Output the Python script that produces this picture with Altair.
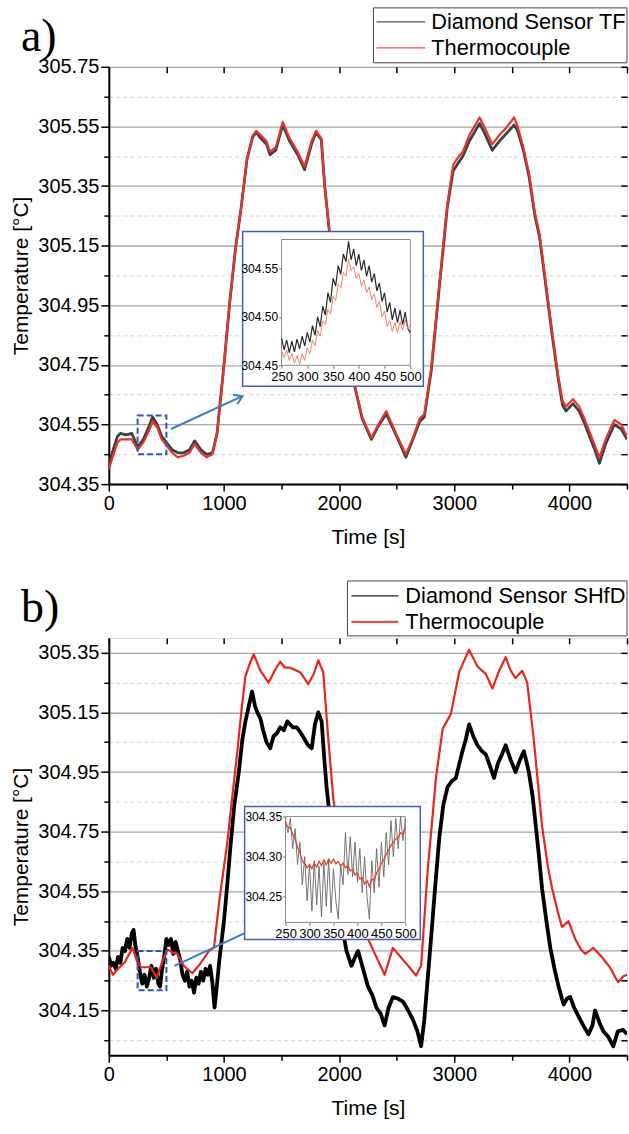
import json
import altair as alt
import pandas as pd

# ---------------- Panel a data ----------------
a_time = [0, 25, 50, 75, 100, 150, 200, 250, 300, 350, 380, 420, 460, 500, 550, 600, 650, 700, 745, 800,
          850, 900, 940, 1000, 1050, 1100, 1150, 1200, 1250, 1280, 1320, 1370, 1400, 1450, 1510, 1570,
          1640, 1700, 1760, 1800, 1845, 1875, 1920, 1960, 2000, 2050, 2100, 2140, 2200, 2280, 2340,
          2410, 2500, 2580, 2640, 2700, 2740, 2800, 2870, 2940, 2990, 3030, 3075, 3130, 3220, 3260,
          3330, 3390, 3450, 3520, 3550, 3600, 3650, 3700, 3740, 3800, 3850, 3900, 3940, 3970, 4030,
          4085, 4130, 4170, 4220, 4260, 4320, 4390, 4450, 4500]
a_diamond = [304.41, 304.45, 304.48, 304.51, 304.52, 304.515, 304.52, 304.475, 304.50, 304.545, 304.575,
             304.55, 304.51, 304.49, 304.465, 304.455, 304.455, 304.465, 304.495, 304.465, 304.45,
             304.455, 304.52, 304.75, 304.96, 305.14, 305.28, 305.44, 305.515, 305.53, 305.51, 305.49,
             305.455, 305.47, 305.555, 305.50, 305.455, 305.405, 305.49, 305.53, 305.505, 305.35,
             305.18, 305.02, 304.90, 304.80, 304.72, 304.67, 304.57, 304.50, 304.545, 304.585, 304.51,
             304.44, 304.50, 304.56, 304.575, 304.73, 305.01, 305.28, 305.40, 305.425, 305.45, 305.50,
             305.56, 305.53, 305.47, 305.50, 305.525, 305.555, 305.535, 305.47, 305.38, 305.25, 305.18,
             305.00, 304.85, 304.71, 304.615, 304.595, 304.62, 304.595, 304.555, 304.515, 304.465,
             304.42, 304.49, 304.55, 304.535, 304.50]
a_tc = [304.40, 304.43, 304.46, 304.49, 304.50, 304.50, 304.50, 304.465, 304.49, 304.53, 304.56, 304.54,
        304.50, 304.48, 304.455, 304.44, 304.445, 304.455, 304.485, 304.455, 304.44, 304.45, 304.52,
        304.75, 304.96, 305.14, 305.28, 305.44, 305.52, 305.535, 305.52, 305.50, 305.465, 305.48,
        305.565, 305.51, 305.465, 305.415, 305.50, 305.535, 305.51, 305.35, 305.18, 305.02, 304.90,
        304.80, 304.72, 304.675, 304.575, 304.505, 304.55, 304.595, 304.515, 304.45, 304.505, 304.57,
        304.585, 304.74, 305.02, 305.29, 305.42, 305.445, 305.465, 305.52, 305.58, 305.55, 305.49,
        305.52, 305.545, 305.58, 305.55, 305.48, 305.39, 305.26, 305.19, 305.01, 304.86, 304.72,
        304.63, 304.61, 304.635, 304.61, 304.57, 304.53, 304.48, 304.44, 304.505, 304.565, 304.55,
        304.51]

inset_time = [250, 255, 260, 265, 270, 275, 280, 285, 290, 295, 300, 305, 310, 315, 320, 325, 330, 335,
              340, 345, 350, 355, 360, 365, 370, 375, 380, 385, 390, 395, 400, 405, 410, 415, 420, 425,
              430, 435, 440, 445, 450, 455, 460, 465, 470, 475, 480, 485, 490, 495, 500]
a_inset_diamond = [304.478, 304.466, 304.476, 304.463, 304.475, 304.464, 304.477, 304.467, 304.480,
                   304.470, 304.484, 304.474, 304.491, 304.481, 304.500, 304.490, 304.511, 304.502,
                   304.525, 304.515, 304.540, 304.532, 304.553, 304.544, 304.565, 304.557, 304.578,
                   304.559, 304.570, 304.553, 304.565, 304.548, 304.559, 304.542, 304.553, 304.536,
                   304.545, 304.527, 304.535, 304.516, 304.525, 304.505, 304.515, 304.497, 304.509,
                   304.494, 304.507, 304.492, 304.505, 304.488, 304.484]
a_inset_tc = [304.465, 304.458, 304.466, 304.455, 304.462, 304.452, 304.460, 304.451, 304.462, 304.455,
              304.468, 304.462, 304.476, 304.470, 304.486, 304.480, 304.496, 304.492, 304.508, 304.503,
              304.521, 304.517, 304.534, 304.530, 304.546, 304.542, 304.560, 304.548, 304.552, 304.540,
              304.545, 304.532, 304.538, 304.525, 304.531, 304.518, 304.524, 304.510, 304.516, 304.500,
              304.506, 304.490, 304.496, 304.485, 304.494, 304.484, 304.495, 304.486, 304.497, 304.488,
              304.492]

# ---------------- Panel b data ----------------
b_time_tc = [0, 35, 80, 135, 207, 240, 280, 320, 365, 417, 460, 509, 550, 596, 650, 725, 780, 826, 870,
             913, 960, 1028, 1070, 1114, 1150, 1186, 1220, 1258, 1316, 1388, 1440, 1488, 1530, 1574,
             1632, 1661, 1733, 1780, 1819, 1862, 1906, 1950, 2000, 2060, 2120, 2180, 2251, 2323, 2395,
             2467, 2554, 2610, 2668, 2712, 2769, 2841, 2899, 2935, 2971, 3042, 3128, 3201, 3240, 3273,
             3331, 3390, 3446, 3490, 3532, 3590, 3633, 3690, 3762, 3810, 3849, 3900, 3935, 3992, 4050,
             4100, 4136, 4208, 4280, 4352, 4400, 4424, 4467, 4500]
b_tc = [304.30, 304.27, 304.29, 304.31, 304.36, 304.32, 304.295, 304.295, 304.295, 304.26, 304.31,
        304.355, 304.345, 304.34, 304.30, 304.275, 304.30, 304.325, 304.35, 304.36, 304.52, 304.71,
        304.86, 305.01, 305.15, 305.27, 305.31, 305.345, 305.29, 305.25, 305.29, 305.32, 305.30,
        305.30, 305.29, 305.285, 305.245, 305.28, 305.325, 305.285, 305.06, 304.86, 304.72, 304.60,
        304.50, 304.44, 304.39, 304.33, 304.27, 304.36, 304.32, 304.295, 304.267, 304.30, 304.62,
        304.93, 305.095, 305.12, 305.145, 305.285, 305.36, 305.305, 305.29, 305.28, 305.23, 305.29,
        305.335, 305.29, 305.265, 305.29, 305.25, 305.06, 304.77, 304.64, 304.56, 304.48, 304.43,
        304.45, 304.39, 304.355, 304.34, 304.36, 304.33, 304.295, 304.26, 304.245, 304.265, 304.27]
b_time_diamond = [0, 20, 40, 60, 80, 100, 120, 140, 160, 180, 200, 215, 230, 250, 270, 290, 310, 330,
                  350, 370, 390, 410, 430, 445, 460, 480, 500, 520, 540, 560, 580, 600, 620, 640, 660,
                  680, 700, 720, 740, 760, 780, 800, 820, 840, 860, 880, 900, 918, 935, 960, 1000, 1030,
                  1056, 1090, 1129, 1160, 1186, 1215, 1244, 1270, 1290, 1316, 1340, 1370, 1402, 1430,
                  1460, 1488, 1520, 1550, 1574, 1600, 1632, 1661, 1700, 1730, 1762, 1790, 1819, 1848,
                  1870, 1891, 1930, 1970, 2010, 2040, 2064, 2107, 2140, 2165, 2200, 2251, 2290, 2323,
                  2360, 2395, 2430, 2467, 2510, 2554, 2600, 2640, 2680, 2712, 2740, 2770, 2798, 2835,
                  2870, 2905, 2942, 2980, 3014, 3045, 3071, 3100, 3129, 3165, 3201, 3240, 3273, 3310,
                  3345, 3380, 3415, 3446, 3490, 3532, 3570, 3604, 3630, 3647, 3680, 3705, 3735, 3762,
                  3800, 3834, 3870, 3906, 3949, 3980, 4007, 4040, 4079, 4120, 4165, 4200, 4223, 4260,
                  4295, 4340, 4381, 4420, 4467, 4500]
b_diamond = [304.33, 304.30, 304.31, 304.29, 304.33, 304.31, 304.36, 304.35, 304.39, 304.36, 304.41,
             304.42, 304.37, 304.33, 304.28, 304.24, 304.27, 304.23, 304.26, 304.30, 304.26, 304.29,
             304.24, 304.23, 304.28, 304.33, 304.39, 304.37, 304.39, 304.34, 304.38, 304.35, 304.32,
             304.27, 304.25, 304.28, 304.23, 304.25, 304.21, 304.26, 304.24, 304.28, 304.25, 304.29,
             304.27, 304.30, 304.24, 304.16, 304.22, 304.32, 304.45, 304.58, 304.70, 304.84, 304.95,
             305.06, 305.12, 305.17, 305.22, 305.17, 305.15, 305.13, 305.09, 305.05, 305.03, 305.07,
             305.08, 305.10, 305.09, 305.12, 305.11, 305.10, 305.10, 305.085, 305.06, 305.04, 305.03,
             305.11, 305.15, 305.12, 305.00, 304.90, 304.76, 304.62, 304.50, 304.40, 304.35, 304.30,
             304.33, 304.35, 304.30, 304.23, 304.20, 304.16, 304.14, 304.10, 304.16, 304.195, 304.19,
             304.18, 304.15, 304.12, 304.08, 304.03, 304.12, 304.26, 304.39, 304.57, 304.73, 304.84,
             304.90, 304.92, 304.93, 304.98, 305.02, 305.06, 305.11, 305.07, 305.04, 305.02, 305.01,
             304.97, 304.93, 304.98, 305.01, 305.04, 304.99, 304.95, 304.99, 305.02, 304.98, 304.95,
             304.87, 304.78, 304.67, 304.56, 304.45, 304.36, 304.29, 304.23, 304.17, 304.19, 304.195,
             304.16, 304.13, 304.10, 304.07, 304.10, 304.15, 304.11, 304.08, 304.06, 304.03, 304.08,
             304.085, 304.07]
b_inset_diamond = [304.345, 304.330, 304.348, 304.310, 304.335, 304.290, 304.318, 304.265, 304.300,
                   304.245, 304.290, 304.232, 304.295, 304.240, 304.288, 304.225, 304.292, 304.238,
                   304.297, 304.230, 304.285, 304.245, 304.222, 304.290, 304.265, 304.330, 304.278,
                   304.325, 304.275, 304.318, 304.268, 304.310, 304.255, 304.300, 304.250, 304.222,
                   304.295, 304.255, 304.310, 304.262, 304.318, 304.275, 304.330, 304.290, 304.345,
                   304.300, 304.348, 304.310, 304.350, 304.320, 304.348]
b_inset_tc = [304.342, 304.337, 304.336, 304.328, 304.322, 304.312, 304.305, 304.295, 304.291, 304.286,
              304.290, 304.285, 304.292, 304.287, 304.294, 304.289, 304.296, 304.290, 304.297, 304.292,
              304.297, 304.291, 304.294, 304.288, 304.292, 304.286, 304.289, 304.282, 304.284, 304.277,
              304.279, 304.272, 304.274, 304.266, 304.270, 304.263, 304.272, 304.270, 304.280, 304.284,
              304.292, 304.296, 304.303, 304.308, 304.314, 304.318, 304.322, 304.324, 304.330, 304.328,
              304.336]

# ---------------- Axis ticks ----------------
x_ticks = [0, 500, 1000, 1500, 2000, 2500, 3000, 3500, 4000, 4500]
x_labeled = [0, 1000, 2000, 3000, 4000]
inset_x_ticks = [250, 300, 350, 400, 450, 500]

a_y_major = [304.35, 304.55, 304.75, 304.95, 305.15, 305.35, 305.55, 305.75]
a_y_minor = [304.45, 304.65, 304.85, 305.05, 305.25, 305.45, 305.65]
a_y_domain = [304.35, 305.75]
a_inset_y_ticks = [304.45, 304.50, 304.55]
a_zoom_t = [250, 500]
a_zoom_v = [304.45, 304.58]
a_arrow_t = [540, 1160]
a_arrow_v = [304.535, 304.645]

b_y_major = [304.15, 304.35, 304.55, 304.75, 304.95, 305.15, 305.35]
b_y_minor = [304.05, 304.25, 304.45, 304.65, 304.85, 305.05, 305.25]
b_y_domain = [304.0, 305.4]
b_inset_y_ticks = [304.25, 304.30, 304.35]
b_zoom_t = [250, 500]
b_zoom_v = [304.218, 304.35]
b_arrow_t = [570, 1350]
b_arrow_v = [304.30, 304.44]

PLOT_W = 519
PLOT_H = 418
FONT = "Liberation Sans"
ARROW = "M-1,-0.65L0,0L-1,0.65"


def make_panel(tag, names, colors, widths, t_d, v_d, t_r, v_r, ydom, ymaj, ymin,
               zoom_t, zoom_v, arrow_t, arrow_v, ins_d, ins_r, ins_yticks,
               box_px, ins_xr, ins_yr, leg, leg_colors, leg_widths, ins_colors, ins_widths):
    maj = json.dumps(ymaj)
    ytest = f"indexof({maj}, datum.value) >= 0"
    xtest = "datum.value % 1000 == 0"
    xscale = alt.Scale(domain=[0, 4500], nice=False, zero=False)
    yscale = alt.Scale(domain=ydom, nice=False, zero=False)
    xaxis = alt.Axis(values=x_ticks, format="d", title="Time [s]",
                     labelExpr=f"{xtest} ? datum.label : ''",
                     grid=False, domainColor="black", domainWidth=2,
                     tickColor="black", tickWidth=1.5,
                     tickSize={"condition": {"test": xtest, "value": 7}, "value": 5},
                     labelFont=FONT, labelFontSize=20, labelColor="black", labelPadding=2,
                     labelFlush=False, labelOverlap=False,
                     titleFont=FONT, titleFontSize=21, titleFontWeight="normal",
                     titleColor="black", titlePadding=13)
    yaxis = alt.Axis(values=sorted(ymaj + ymin), title="Temperature [°C]",
                     labelExpr=f"{ytest} ? format(datum.value, '.2f') : ''",
                     grid=True,
                     gridColor={"condition": {"test": ytest, "value": "#a8a8a8"}, "value": "#d4d4d4"},
                     gridDash={"condition": {"test": ytest, "value": []}, "value": [4, 3]},
                     gridWidth={"condition": {"test": ytest, "value": 1.3}, "value": 1},
                     domainColor="black", domainWidth=2, tickColor="black", tickWidth=1.5,
                     tickSize={"condition": {"test": ytest, "value": 8}, "value": 5},
                     labelFont=FONT, labelFontSize=20, labelColor="black", labelPadding=2,
                     labelOverlap=False,
                     titleFont=FONT, titleFontSize=21, titleFontWeight="normal",
                     titleColor="black", titlePadding=6)
    cscale = alt.Scale(domain=names, range=colors)

    df_d = pd.DataFrame({"t": t_d, "v": v_d, "series": names[0]})
    df_r = pd.DataFrame({"t": t_r, "v": v_r, "series": names[1]})

    def line(df, w):
        return alt.Chart(df).mark_line(clip=True, strokeWidth=w, strokeJoin="round").encode(
            x=alt.X("t:Q", scale=xscale, axis=xaxis),
            y=alt.Y("v:Q", scale=yscale, axis=yaxis),
            color=alt.Color("series:N", scale=cscale, legend=None),
        )

    zoom_df = pd.DataFrame({"t0": [zoom_t[0]], "t1": [zoom_t[1]], "v0": [zoom_v[0]], "v1": [zoom_v[1]]})
    zoom_box = alt.Chart(zoom_df).mark_rect(fillOpacity=0, stroke="#3552b0", strokeWidth=2,
                                            strokeDash=[6, 3]).encode(
        x=alt.X("t0:Q", scale=xscale, axis=xaxis), x2="t1:Q",
        y=alt.Y("v0:Q", scale=yscale, axis=yaxis), y2="v1:Q")
    arrow_df = pd.DataFrame({"t0": [arrow_t[0]], "t1": [arrow_t[1]],
                             "v0": [arrow_v[0]], "v1": [arrow_v[1]]})
    arrow_line = alt.Chart(arrow_df).mark_rule(color="#3a7dc9", strokeWidth=2).encode(
        x=alt.X("t0:Q", scale=xscale, axis=xaxis), x2="t1:Q",
        y=alt.Y("v0:Q", scale=yscale, axis=yaxis), y2="v1:Q")
    arrow_head = alt.Chart(arrow_df).mark_point(shape=ARROW, filled=False, size=260, angle=335,
                                                strokeWidth=2, color="#3a7dc9", opacity=1).encode(
        x=alt.X("t1:Q", scale=xscale, axis=xaxis),
        y=alt.Y("v1:Q", scale=yscale, axis=yaxis))
    one = pd.DataFrame({"lab": [tag]})
    tag_chart = alt.Chart(one).mark_text(
        font="Liberation Serif", fontSize=46, align="left", baseline="alphabetic", color="black"
    ).encode(text="lab:N", x=alt.value(-88), y=alt.value(-16))

    # hand-drawn legend (box, line samples, labels)
    bx0, by0, bx1, by1, sx0, sx1, tx, r1, r2 = leg
    leg_layers = [alt.Chart(one).mark_rect(fill="white", stroke="#444", strokeWidth=1).encode(
        x=alt.value(bx0), x2=alt.value(bx1), y=alt.value(by0), y2=alt.value(by1))]
    for name, col, w, ry in zip(names, leg_colors, leg_widths, [r1, r2]):
        leg_layers.append(alt.Chart(one).mark_rule(color=col, strokeWidth=w).encode(
            x=alt.value(sx0), x2=alt.value(sx1), y=alt.value(ry)))
        leg_layers.append(alt.Chart(pd.DataFrame({"lab": [name]})).mark_text(
            font=FONT, fontSize=21.8, align="left", baseline="middle", color="black"
        ).encode(text="lab:N", x=alt.value(tx), y=alt.value(ry)))

    main = alt.layer(line(df_d, widths[0]), line(df_r, widths[1]), zoom_box, arrow_line, arrow_head,
                     tag_chart, *leg_layers)

    # inset
    ixscale = alt.Scale(domain=zoom_t, range=ins_xr, nice=False, zero=False)
    iyscale = alt.Scale(domain=zoom_v, range=ins_yr, nice=False, zero=False)
    ixaxis = alt.Axis(orient="bottom", offset=-(PLOT_H - ins_yr[0]), values=inset_x_ticks, format="d",
                      title=None, grid=False, domain=False, tickSize=3, tickColor="#777",
                      labelFont=FONT, labelFontSize=13, labelColor="black", labelPadding=2,
                      labelFlush=False, labelOverlap=False, zindex=1)
    iyaxis = alt.Axis(orient="left", offset=-ins_xr[0], values=ins_yticks, format=".2f",
                      title=None, grid=False, domain=False, tickSize=3, tickColor="#777",
                      labelFont=FONT, labelFontSize=12, labelColor="black", labelPadding=1,
                      labelOverlap=False, zindex=1)
    outer = alt.Chart(one).mark_rect(fill="white", stroke="#4a5cb8", strokeWidth=1.5).encode(
        x=alt.value(box_px[0]), x2=alt.value(box_px[2]), y=alt.value(box_px[1]), y2=alt.value(box_px[3]))
    frame = alt.Chart(zoom_df).mark_rect(fillOpacity=0, stroke="#8a8a8a", strokeWidth=1).encode(
        x=alt.X("t0:Q", scale=ixscale, axis=ixaxis), x2="t1:Q",
        y=alt.Y("v0:Q", scale=iyscale, axis=iyaxis), y2="v1:Q")

    def iline(vals, col, w):
        return alt.Chart(pd.DataFrame({"t": inset_time, "v": vals})).mark_line(
            color=col, strokeWidth=w).encode(
            x=alt.X("t:Q", scale=ixscale, axis=ixaxis),
            y=alt.Y("v:Q", scale=iyscale, axis=iyaxis))

    inset = alt.layer(outer, frame, iline(ins_d, ins_colors[0], ins_widths[0]),
                      iline(ins_r, ins_colors[1], ins_widths[1]))

    # mirror axes (inward ticks on the top and right frame)
    maxis_x = alt.Axis(orient="top", offset=-6, values=x_ticks, labels=False, domain=False,
                       grid=False, title=None, tickSize=6, tickColor="black", tickWidth=1.5)
    maxis_y = alt.Axis(orient="right", offset=-6, values=sorted(ymaj + ymin), labels=False,
                       domain=False, grid=False, title=None, tickSize=6, tickColor="black",
                       tickWidth=1.5)
    mirror = alt.Chart(zoom_df).mark_rect(opacity=0).encode(
        x=alt.X("t0:Q", scale=alt.Scale(domain=[0, 4500], nice=False, zero=False), axis=maxis_x),
        x2="t1:Q",
        y=alt.Y("v0:Q", scale=alt.Scale(domain=ydom, nice=False, zero=False), axis=maxis_y),
        y2="v1:Q")

    return alt.layer(main, inset, mirror).resolve_scale(x="independent", y="independent").properties(
        width=PLOT_W, height=PLOT_H)


panel_a = make_panel("a)", ["Diamond Sensor TF", "Thermocouple"], ["#404040", "#e8332b"], [2.8, 2.2],
                     a_time, a_diamond, a_time, a_tc, a_y_domain, a_y_major, a_y_minor,
                     a_zoom_t, a_zoom_v, a_arrow_t, a_arrow_v, a_inset_diamond, a_inset_tc,
                     a_inset_y_ticks, (134, 165, 315, 320), [173, 302], [299, 173],
                     (265, -59, 519, -4, 268, 317, 323, -45, -19), ["#555555", "#f05050"], [1.2, 1.2],
                     ["#2a2a2a", "#f2826c"], [1.2, 1.0])
panel_b = make_panel("b)", ["Diamond Sensor SHfD", "Thermocouple"], ["#000000", "#e8261e"], [3.8, 2.2],
                     b_time_diamond, b_diamond, b_time_tc, b_tc, b_y_domain, b_y_major, b_y_minor,
                     b_zoom_t, b_zoom_v, b_arrow_t, b_arrow_v, b_inset_diamond, b_inset_tc,
                     b_inset_y_ticks, (136, 169, 312, 302), [177, 297], [285, 179],
                     (239, -57, 519, -2, 243, 290, 297, -42, -16), ["#222222", "#f04848"], [1.2, 2.2],
                     ["#666666", "#e8402a"], [0.9, 1.3])

chart = alt.vconcat(panel_a, panel_b, spacing=32).resolve_scale(color="independent").properties(
    padding={"left": 10, "top": 6, "right": 0, "bottom": 0}
).configure_view(stroke="black", strokeWidth=2).configure(background="white")

chart.save("out.html", embed_options={"renderer": "svg", "actions": False})
